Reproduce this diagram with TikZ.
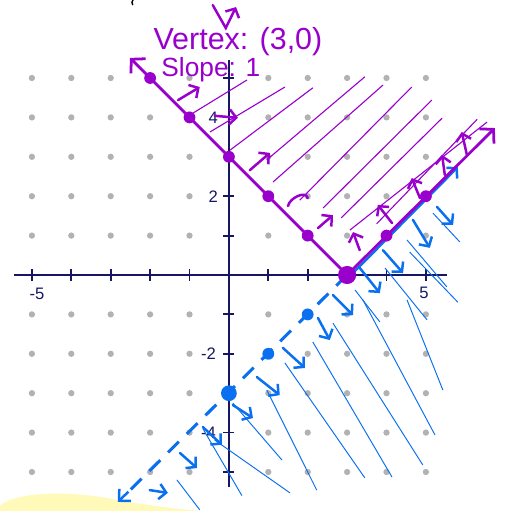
\documentclass[tikz,border=0pt]{standalone}
\usepackage{fontspec}
\setmainfont{Liberation Sans}
\usetikzlibrary{arrows.meta}
\definecolor{vpurple}{RGB}{153,0,204}
\definecolor{vblue}{RGB}{10,112,240}
\definecolor{axisnavy}{RGB}{22,22,100}
\definecolor{dotgray}{RGB}{178,178,178}
\definecolor{hilite}{RGB}{255,250,185}
\begin{document}
\begin{tikzpicture}[
  axis/.style={draw=axisnavy, line width=2pt},
  ticks/.style={draw=axisnavy, line width=1.3pt},
  ticklab/.style={text=axisnavy, font=\fontsize{12}{12}\selectfont, inner sep=1pt},
  vline/.style={draw=vpurple, line width=2pt, line cap=round, line join=round},
  hatchp/.style={draw=vpurple, line width=0.8pt},
  hatchb/.style={draw=vblue, line width=0.7pt},
  hookp/.style={draw=vpurple, line width=1.8pt, line cap=round, -{Straight Barb[length=5pt,width=11pt]}},
  hookb/.style={draw=vblue, line width=1.8pt, line cap=round, -{Straight Barb[length=5pt,width=11pt]}},
  note/.style={text=vpurple, font=\fontsize{22}{22}\selectfont, inner sep=0pt}
]
\useasboundingbox (-5.81,-5.99) rectangle (7.13,6.98);

% yellow highlighter at the bottom
\fill[hilite] (-5.81,-5.99) -- (-5.81,-5.85) .. controls (-5.4,-5.5) and (-4.0,-5.45) .. (-2.8,-5.72)
  .. controls (-2.0,-5.85) and (-1.2,-5.95) .. (-0.7,-5.99) -- cycle;

% dot grid
\foreach \x in {-5,-4,-3,-2,-1,1,2,3,4,5}
  \foreach \y in {-5,-4,-3,-2,-1,1,2,3,4,5}
    \fill[dotgray] (\x,\y) circle (0.08);

% axes
\draw[axis] (-5.46,0) -- (5.53,0);
\draw[axis] (0,-5.38) -- (0,5.46);
\foreach \t in {-5,-4,-3,-2,-1,1,2,3,4,5} {
  \draw[ticks] (\t,-0.14) -- (\t,0.14);
  \draw[ticks] (-0.14,\t) -- (0.14,\t);
}
\node[ticklab] (xm5) at (-4.87,-0.48) {-5};
\node[ticklab] (xp5) at (4.95,-0.45) {5};
\node[ticklab] (yp2) at (-0.4,2) {2};
\node[ticklab] (yp4) at (-0.4,4) {4};
\node[ticklab] (ym2) at (-0.52,-2) {-2};
\node[ticklab] (ym4) at (-0.52,-4) {-4};

% purple shading above the V
\draw[hatchp] (-0.91,4.11) -- (0.46,4.95);
\draw[hatchp] (-0.48,3.63) -- (1.42,4.77);
\draw[hatchp] (0.03,3.17) -- (2.13,4.75);
\draw[hatchp] (0.96,2.92) -- (3.45,5.03);
\draw[hatchp] (1.12,2.36) -- (3.91,4.82);
\draw[hatchp] (1.80,1.90) -- (4.64,4.77);
\draw[hatchp] (2.39,1.70) -- (5.15,4.44);
\draw[hatchp] (2.85,1.45) -- (5.41,3.98);
\draw[hatchp] (3.07,1.14) -- (6.55,3.88);
\draw[hatchp] (3.75,1.30) -- (6.30,3.95);

% blue shading below y = x - 3
\draw[hatchb] (5.18,1.57) -- (5.86,0.84);
\draw[hatchb] (4.52,0.89) -- (5.53,-0.30);
\draw[hatchb] (4.59,0.58) -- (5.81,-0.69);
\draw[hatchb] (3.96,0.18) -- (5.03,-1.14);
\draw[hatchb] (3.20,-0.38) -- (3.83,-1.19);
\draw[hatchb] (4.52,-0.63) -- (5.43,-2.92);
\draw[hatchb] (3.40,-0.63) -- (5.23,-4.06);
\draw[hatchb] (2.64,-1.22) -- (4.92,-4.82);
\draw[hatchb] (2.13,-1.70) -- (4.14,-5.13);
\draw[hatchb] (1.42,-2.23) -- (3.45,-5.15);
\draw[hatchb] (0.96,-2.92) -- (2.23,-5.46);
\draw[hatchb] (0.10,-3.25) -- (1.35,-4.70);
\draw[hatchb] (-0.36,-4.19) -- (1.55,-5.53);
\draw[hatchb] (-0.66,-3.90) -- (0.33,-5.60);
\draw[hatchb] (-1.32,-5.20) -- (-0.74,-5.96);

% boundary y = x - 3
\draw[vblue, line width=2.2pt, dash pattern=on 11pt off 8pt] (3,0) -- (-2.55,-5.5);
\draw[vblue, line width=1.8pt, -{Straight Barb[length=6pt,width=12pt]}] (-2.55,-5.5) -- (-2.82,-5.76);
\draw[hookb] (3.05,-0.05) -- (5.81,2.74);

% boundary y = |x - 3|
\draw[vline, {Straight Barb[length=7pt,width=15pt]}-{Straight Barb[length=7pt,width=15pt]}]
  (-2.51,5.51) -- (3,0) -- (6.75,3.73);

% points
\foreach \x/\y in {-2/5,-1/4,0/3,1/2,2/1,4/1,5/2}
  \fill[vpurple] (\x,\y) circle (0.15);
\fill[vpurple] (3,0) circle (0.23);
\fill[vblue] (2,-1) circle (0.15);
\fill[vblue] (1,-2) circle (0.15);
\fill[vblue] (0,-3) circle (0.2);

% little direction arrows
\draw[hookp] (-1.29,4.44) -- (-0.74,4.77);
\draw[hookp] (-0.36,4.04) -- (0.23,3.99);
\draw[hookp] (0.53,2.66) -- (1.04,3.10);
\draw[vpurple, line width=1.8pt, line cap=round] (1.5,1.75) to[out=80,in=100] (2.0,1.95);
\draw[hookp] (2.26,1.19) -- (2.64,1.52);
\draw[hookp] (3.32,0.63) -- (3.15,1.09);
\draw[hookp] (4.14,1.32) -- (3.78,1.78);
\draw[hookp] (4.85,1.95) -- (4.64,2.46);
\draw[hookp] (5.48,2.54) -- (5.41,3.05);
\draw[hookp] (6.04,3.05) -- (5.91,3.63);
\draw[hookb] (3.91,0.63) -- (4.42,0.05);
\draw[hookb] (3.32,0.18) -- (3.83,-0.46);
\draw[hookb] (2.64,-0.51) -- (3.15,-1.02);
\draw[hookb] (2.26,-1.09) -- (2.56,-1.65);
\draw[hookb] (1.37,-1.85) -- (1.93,-2.36);
\draw[hookb] (0.71,-2.59) -- (1.29,-3.05);
\draw[hookb] (0.10,-3.30) -- (0.61,-3.63);
\draw[hookb] (-0.66,-3.86) -- (-0.18,-4.31);
\draw[hookb] (-1.24,-4.52) -- (-0.81,-4.90);
\draw[hookb] (-2.01,-5.46) -- (-1.55,-5.53);
\draw[hookb] (4.67,1.40) -- (5.10,0.69);
\draw[hookb] (5.28,1.73) -- (5.69,1.27);

% notes
\draw[hookp] (-0.41,6.85) -- (-0.08,6.27) -- (0.18,6.80);
\draw[black, line width=1pt] (-2.43,6.99) to[bend right=40] (-2.44,6.85);
\node[note] (vtx) at (0.23,5.92) {Vertex: (3,0)};
\node[note, font=\fontsize{19}{19}\selectfont, anchor=west] (slp) at (-1.72,5.2) {Slope: 1};
\end{tikzpicture}
\end{document}
